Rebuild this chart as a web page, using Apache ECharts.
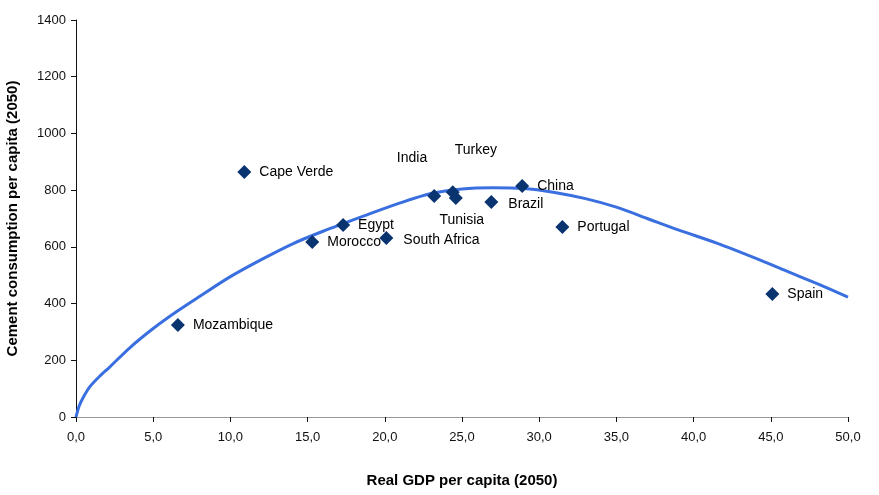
<!DOCTYPE html>
<html>
<head>
<meta charset="utf-8">
<script src="https://cdn.jsdelivr.net/npm/echarts@6/dist/echarts.min.js"></script>
<style>
  html, body { margin: 0; padding: 0; background: #fff; }
  #chart { width: 879px; height: 495px; }
</style>
</head>
<body>
<div id="chart"></div>
<script>
// countries, GDP (x) and cement consumption (y)
var countries = ['Mozambique', 'Cape Verde', 'Morocco', 'Egypt', 'South Africa', 'India', 'Turkey', 'Tunisia', 'Brazil', 'China', 'Portugal', 'Spain'];
var gdp = [6.6, 10.9, 15.3, 17.3, 20.1, 23.2, 24.4, 24.6, 26.9, 28.9, 31.5, 45.1];
var cement = [324, 864, 617, 677, 631, 779, 793, 772, 758, 815, 670, 434];

// trend curve
var trendX = [0, 0.2, 0.5, 0.9, 1.5, 2.2, 3.5, 5, 6.5, 8, 10, 12, 14, 16, 18.8, 21, 23, 25, 27, 29, 31, 33, 35, 37, 39, 41.5, 44, 46, 48, 50];
var trendY = [0, 38, 72, 107, 142, 177, 245, 312, 371, 425, 495, 555, 610, 655, 712, 755, 788, 804, 808, 806, 792, 770, 740, 700, 660, 613, 560, 515, 470, 423];

// label placement per country
var labelPos = {
  'India': { position: 'left', offset: [8, -38] },
  'Turkey': { position: 'right', offset: [-13, -42] },
  'Tunisia': { position: 'bottom', offset: [6, 0] },
  'Brazil': { position: 'right', offset: [2, 2] },
  'South Africa': { position: 'right', offset: [2, 2] }
};

var pts = countries.map(function (c, i) {
  var item = { name: c, value: [gdp[i], cement[i]] };
  if (labelPos[c]) item.label = labelPos[c];
  return item;
});

var chart = echarts.init(document.getElementById('chart'));
chart.setOption({
  animation: false,
  textStyle: { fontFamily: 'Liberation Sans, Arial, sans-serif' },
  grid: { left: 76, right: 31, top: 20, bottom: 78, containLabel: false, outerBoundsMode: 'none' },
  xAxis: {
    type: 'value', min: 0, max: 50, interval: 5,
    name: 'Real GDP per capita (2050)',
    nameLocation: 'middle', nameGap: 56,
    nameTextStyle: { fontSize: 15, fontWeight: 'bold', color: '#000' },
    axisLine: { lineStyle: { color: '#999', width: 1 } },
    axisTick: { show: true, length: 5, lineStyle: { color: '#111' } },
    axisLabel: { fontSize: 13, color: '#111', margin: 14, formatter: function (v) { return v.toFixed(1).replace('.', ','); } },
    splitLine: { show: false }
  },
  yAxis: {
    type: 'value', min: 0, max: 1400, interval: 200,
    name: 'Cement consumption per capita (2050)',
    nameLocation: 'middle', nameGap: 56,
    nameTextStyle: { fontSize: 15, fontWeight: 'bold', color: '#000' },
    axisLine: { show: true, lineStyle: { color: '#111', width: 1 } },
    axisTick: { show: true, length: 5, lineStyle: { color: '#111' } },
    axisLabel: { fontSize: 13, color: '#111', margin: 10, formatter: function (v) { return String(v); } },
    splitLine: { show: false }
  },
  series: [
    {
      type: 'line',
      data: trendX.map(function (x, i) { return [x, trendY[i]]; }),
      smooth: 0.3,
      symbol: 'none',
      lineStyle: { color: '#3a6fe0', width: 3 },
      z: 2
    },
    {
      type: 'scatter',
      data: pts,
      symbol: 'diamond',
      symbolSize: 14,
      itemStyle: { color: '#0a3470', opacity: 1 },
      label: {
        show: true, position: 'right', distance: 8,
        formatter: '{b}', fontSize: 14, color: '#000'
      },
      z: 3
    }
  ]
});
</script>
</body>
</html>
